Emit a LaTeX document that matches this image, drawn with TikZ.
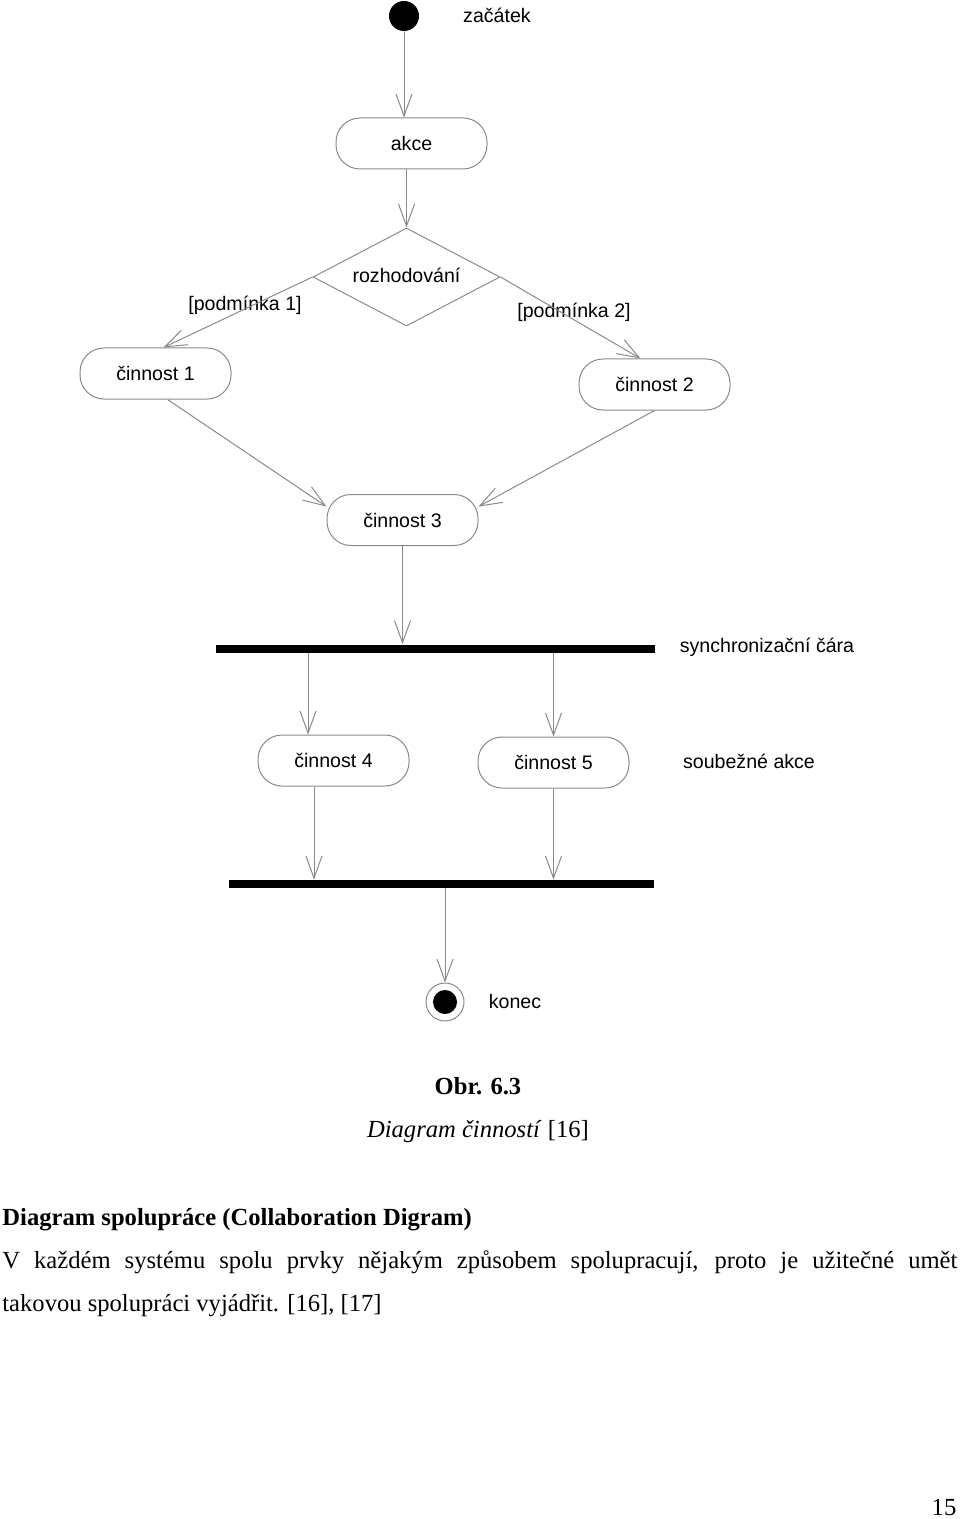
\documentclass[tikz,border=0pt]{standalone}
\usepackage{fontspec}
\setmainfont{Liberation Serif}
\newfontfamily\diafont{Liberation Sans}
\usetikzlibrary{shapes.geometric,arrows.meta}
\definecolor{linegray}{HTML}{8A8A8A}
\begin{document}
\begin{tikzpicture}[x=0.5pt,y=-0.5pt,
  dia/.style={font=\diafont\fontsize{9.8}{11}\selectfont},
  act/.style={dia, draw=linegray, line width=0.5pt, rectangle, rounded corners=12pt, minimum width=75.5pt, minimum height=25.5pt, inner sep=0pt},
  flow/.style={draw=linegray, line width=0.5pt, -{Straight Barb[length=11pt,width=8pt]}},
  bar/.style={fill=black, inner sep=0pt, minimum height=4pt},
  lbl/.style={dia, inner sep=0pt},
  serif/.style={font=\fontsize{12.3}{14}\selectfont, inner sep=0pt},
]
\path[use as bounding box] (0,0) rectangle (960,1519);

% nodes
\node[circle, fill=black, minimum size=15pt, inner sep=0pt] (start) at (404,16) {};
\node[lbl] (tstart) at (497,15) {začátek};
\node[act] (akce) at (411.5,143.5) {akce};
\node[diamond, shape aspect=1.9, draw=linegray, line width=0.5pt, minimum width=93.5pt, minimum height=49pt, inner sep=0pt, dia] (dec) at (406.5,277) {\raisebox{2pt}{rozhodování}};
\node[lbl] (p1) at (245,305) {[podmínka 1]};
\node[lbl] (p2) at (574,312) {[podmínka 2]};
\node[act] (c1) at (155.5,373.5) {činnost 1};
\node[act] (c2) at (654.5,384.5) {činnost 2};
\node[act] (c3) at (402.5,520) {činnost 3};
\node[bar, minimum width=219.5pt] (bar1) at (435.5,648.5) {};
\node[lbl] (tsync) at (767,647) {synchronizační čára};
\node[act] (c4) at (333.5,760.5) {činnost 4};
\node[act] (c5) at (553.5,762.5) {činnost 5};
\node[lbl] (tsoub) at (749,761) {soubežné akce};
\node[bar, minimum width=212.5pt] (bar2) at (441.5,884) {};
\node[circle, draw=linegray, line width=0.5pt, minimum size=19pt, inner sep=0pt,
      path picture={\fill[black] (path picture bounding box.center) circle (6pt);}] (end) at (445,1002) {};
\node[lbl] (tend) at (515,1001) {konec};

% connectors
\draw[flow] (start) -- (start |- akce.north);
\draw[flow] (akce.south -| dec.north) -- (dec.north);
\draw[flow] (dec.west) -- ([xshift=4pt]c1.north);
\draw[flow] (dec.east) -- ([xshift=-7pt]c2.north);
\draw[flow] ([xshift=6pt]c1.south) -- (c3.170);
\draw[flow] (c2.south) -- (c3.10);
\draw[flow] (c3.south) -- (c3.south |- bar1.north);
\coordinate (c4in) at ([xshift=-12.75pt]c4.north);
\draw[flow] (c4in |- bar1.south) -- (c4in);
\draw[flow] (c5.north |- bar1.south) -- (c5.north);
\coordinate (c4out) at ([xshift=-9.75pt]c4.south);
\draw[flow] (c4out) -- (c4out |- bar2.north);
\draw[flow] (c5.south) -- (c5.south |- bar2.north);
\draw[flow] (bar2.south -| end) -- (end.north);

% caption and text
\node[serif, anchor=base, font=\bfseries\fontsize{12.3}{14}\selectfont] (obr) at (478,1094) {Obr. 6.3};
\node[serif, anchor=base] (cap) at (478,1137) {\textit{Diagram činností} [16]};
\node[serif, anchor=base west, font=\bfseries\fontsize{12.3}{14}\selectfont] (head) at (2,1225) {Diagram spolupráce (Collaboration Digram)};
\node[serif, anchor=base west] (para) at (2,1268) {\fontsize{12.3}{21.5}\selectfont\parbox[t]{477.5pt}{V každém systému spolu prvky nějakým způsobem spolupracují, proto je užitečné umět\linebreak takovou spolupráci vyjádřit. [16], [17]}};
\node[serif, anchor=base] (pg) at (944,1515) {15};
\end{tikzpicture}
\end{document}
